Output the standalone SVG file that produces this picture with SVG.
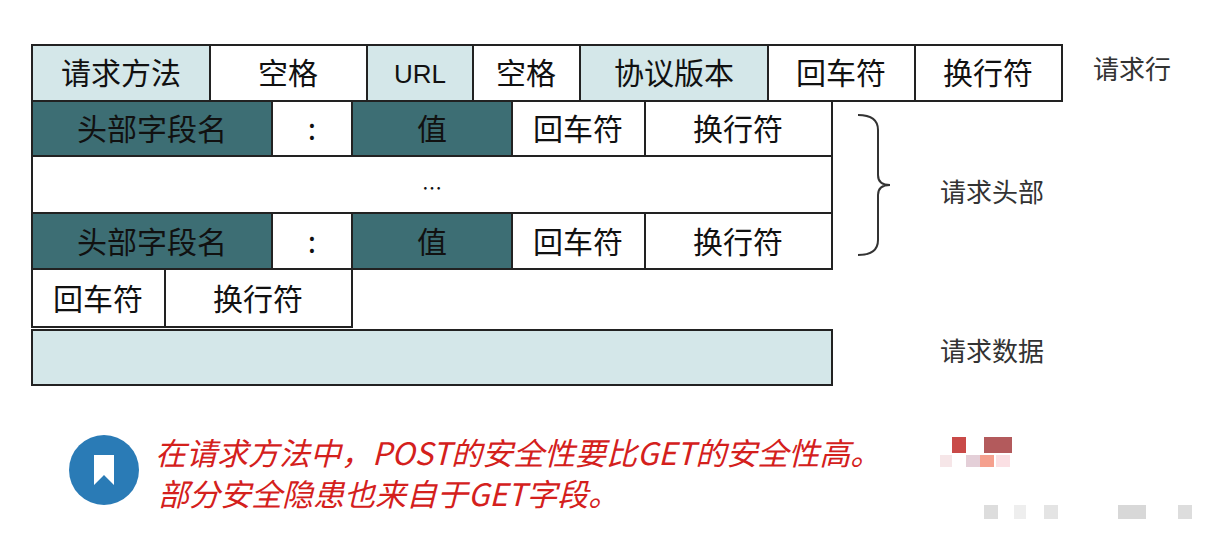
<svg xmlns="http://www.w3.org/2000/svg" width="1207" height="538" viewBox="0 0 1207 538">
<style>
rect.c{stroke:#222;stroke-width:2}
.l{fill:#d4e7e9}.w{fill:#fff}.d{fill:#3d6e74}
text{font-family:"Noto Sans CJK SC","Liberation Sans",sans-serif;font-size:30px;text-anchor:middle;fill:#111}
text.s{font-size:26px;text-anchor:start;fill:#333}
text.r{font-size:31px;font-style:italic;text-anchor:start;fill:#d4201c}
</style>
<rect width="1207" height="538" fill="#fff"/>
<g id="row1">
<rect class="c l" x="32" y="45" width="178" height="56"/><text x="121" y="84">请求方法</text>
<rect class="c w" x="210" y="45" width="157" height="56"/><text x="288" y="84">空格</text>
<rect class="c l" x="367" y="45" width="106" height="56"/><text x="420" y="83" style="font-family:'Liberation Sans';font-size:26px">URL</text>
<rect class="c w" x="473" y="45" width="107" height="56"/><text x="526" y="84">空格</text>
<rect class="c l" x="580" y="45" width="188" height="56"/><text x="674" y="84">协议版本</text>
<rect class="c w" x="768" y="45" width="147" height="56"/><text x="841" y="84">回车符</text>
<rect class="c w" x="915" y="45" width="147" height="56"/><text x="988" y="84">换行符</text>
</g>
<g id="row2">
<rect class="c d" x="32" y="101" width="240" height="55"/><text x="152" y="140">头部字段名</text>
<rect class="c w" x="272" y="101" width="80" height="55"/><text x="312" y="140">:</text>
<rect class="c d" x="352" y="101" width="160" height="55"/><text x="432" y="140">值</text>
<rect class="c w" x="512" y="101" width="133" height="55"/><text x="578" y="140">回车符</text>
<rect class="c w" x="645" y="101" width="187" height="55"/><text x="738" y="140">换行符</text>
</g>
<g id="row3"><rect class="c w" x="32" y="156" width="800" height="57"/><text x="432" y="196" style="font-size:20px">…</text></g>
<g id="row4">
<rect class="c d" x="32" y="213" width="240" height="56"/><text x="152" y="253">头部字段名</text>
<rect class="c w" x="272" y="213" width="80" height="56"/><text x="312" y="253">:</text>
<rect class="c d" x="352" y="213" width="160" height="56"/><text x="432" y="253">值</text>
<rect class="c w" x="512" y="213" width="133" height="56"/><text x="578" y="253">回车符</text>
<rect class="c w" x="645" y="213" width="187" height="56"/><text x="738" y="253">换行符</text>
</g>
<g id="row5">
<rect class="c w" x="32" y="269" width="133" height="58"/><text x="98" y="310">回车符</text>
<rect class="c w" x="165" y="269" width="187" height="58"/><text x="258" y="310">换行符</text>
</g>
<g id="row6"><rect class="c l" x="32" y="330" width="800" height="55"/></g>
<g id="connectors"><path d="M858 115 Q878 115 878 130 V175 Q878 185 890 185 Q878 185 878 195 V240 Q878 255 858 255" fill="none" stroke="#333" stroke-width="2"/></g>
<g id="labels">
<text class="s" x="1093" y="79">请求行</text>
<text class="s" x="940" y="202">请求头部</text>
<text class="s" x="940" y="361">请求数据</text>
</g>
<g id="note">
<circle cx="104" cy="470" r="35" fill="#2a7bb6"/>
<path d="M94 455 H114 V485 L104 475 L94 485 Z" fill="#fff"/>
<text class="r" x="155" y="465">在请求方法中，POST的安全性要比GET的安全性高。</text>
<text class="r" x="158" y="506">部分安全隐患也来自于GET字段。</text>
<rect x="952" y="437" width="14" height="16" fill="#c94a48"/><rect x="984" y="437" width="28" height="16" fill="#b35a5c"/>
<rect x="940" y="455" width="12" height="12" fill="#f6e6e8"/><rect x="966" y="455" width="14" height="12" fill="#e4cfd8"/><rect x="980" y="455" width="14" height="12" fill="#f5a08e"/><rect x="996" y="455" width="14" height="12" fill="#fbe0e4"/>
<rect x="984" y="505" width="14" height="14" fill="#ddd"/><rect x="1014" y="505" width="12" height="14" fill="#eee"/><rect x="1044" y="505" width="14" height="14" fill="#e4e4e4"/><rect x="1118" y="505" width="28" height="14" fill="#d8d8d8"/><rect x="1178" y="505" width="14" height="14" fill="#ddd"/>
</g>
</svg>
